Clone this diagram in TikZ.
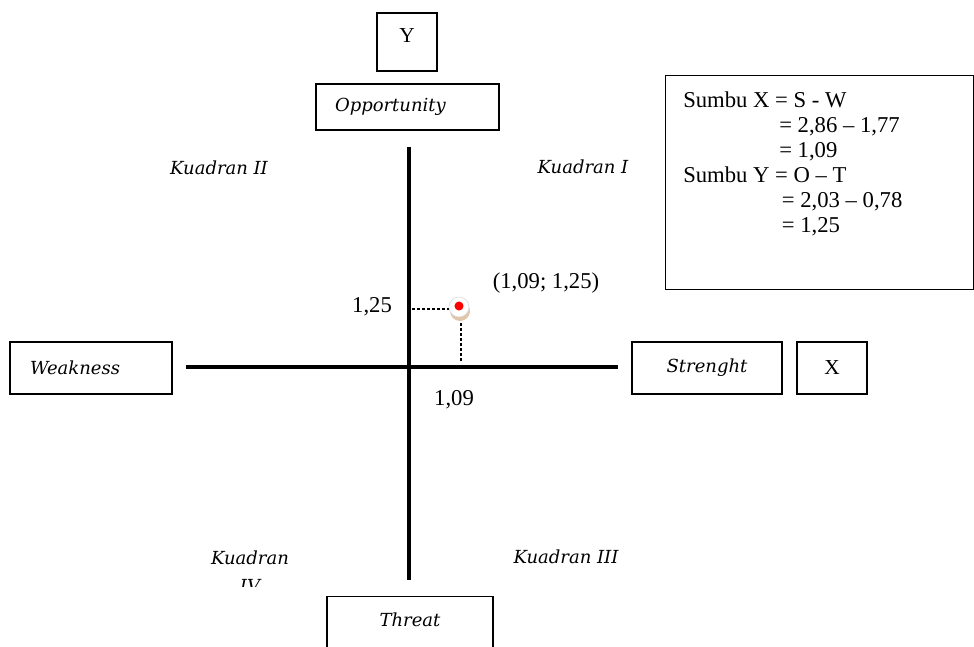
\documentclass[tikz,border=0pt]{standalone}
\usepackage{fontspec}
\setmainfont{Liberation Serif}
\newfontfamily\kfont{DejaVu Serif}

\begin{document}
\begin{tikzpicture}[x=0.75pt, y=-0.75pt,
  labelbox/.style={draw, line width=0.8pt, inner sep=0pt, font=\kfont\itshape\fontsize{13.5}{16}\selectfont},
  letterbox/.style={draw, line width=0.8pt, inner sep=0pt, font=\fontsize{16}{19}\selectfont},
  quad/.style={font=\kfont\itshape\fontsize{13.5}{16.5}\selectfont},
  num/.style={font=\fontsize{17}{19}\selectfont},
  axis/.style={line width=2.6pt},
  proj/.style={line width=1.9pt, dash pattern=on 1.9pt off 1.9pt},
  dotnode/.style={circle, fill=white, draw=black!15, minimum size=15pt, inner sep=0pt}]
\useasboundingbox (0,0) rectangle (974,646);

% boxes round the axes
\node[letterbox, minimum width=45pt, minimum height=43.5pt, text height=12pt, text depth=12pt] (ybox) at (407,42) {Y};
\node[labelbox, minimum height=34.5pt, text width=108.75pt, inner xsep=14.25pt, align=left] (opp) at (407.5,107) {Opportunity};
\node[labelbox, minimum height=39pt, text width=91.5pt, inner xsep=15pt, align=left] (weak) at (91,368) {Weakness};
\node[labelbox, minimum width=112.5pt, minimum height=39pt] (stren) at (707,368) {Strenght};
\node[letterbox, minimum width=52.5pt, minimum height=39pt] (xbox) at (832,368) {X};
\node[labelbox, anchor=north, minimum width=124.5pt, minimum height=52.5pt, text height=10pt, text depth=18pt] (threat) at (410,596) {Threat};

% axes
\coordinate (ytop) at (409,147);
\coordinate (ybot) at (409,580);
\coordinate (xleft) at (186,367);
\coordinate (xright) at (618,367);
\draw[axis] (ytop) -- (ybot);
\draw[axis] (xleft) -- (xright);

% the point
\fill[brown!45] (460,311) circle (7.5pt);
\node[dotnode] (pt) at (459,307) {};
\fill[red] (459,306) circle (3.4pt);
\coordinate (ymark) at (412,309);
\coordinate (xmark) at (461,361);
\draw[proj] (ymark) -- (ymark -| pt.west);
\draw[proj, shorten >=4pt] (xmark) -- (xmark |- pt.south);

\node[num] (ylab) at (372,307) {1,25};
\node[num] (xlab) at (454,400) {1,09};
\node[num] (ptlab) at (546,283) {(1,09; 1,25)};

% quadrants
\node[quad] (q1) at (583,167) {Kuadran I};
\node[quad] (q2) at (219,168) {Kuadran II};
\node[quad] (q3) at (566,557) {Kuadran III};
\begin{scope}
  \clip (150,530) rectangle (350,586);
  \node[quad, align=center, font=\kfont\itshape\fontsize{13.5}{21}\selectfont] (q4) at (250,572) {Kuadran\\IV};
\end{scope}

% calculation
\node[draw, line width=0.8pt, minimum width=231pt, minimum height=160.5pt, anchor=north west, inner sep=0pt] (calcbox) at (665,75) {};
\node[anchor=north west, align=left, inner sep=0pt, font=\fontsize{17}{18.75}\selectfont] (calc) at (683,92) {Sumbu X = S - W\\
\hspace*{72pt}= 2,86 – 1,77\\
\hspace*{72pt}= 1,09\\
Sumbu Y = O – T\\
\hspace*{74pt}= 2,03 – 0,78\\
\hspace*{74pt}= 1,25};
\end{tikzpicture}
\end{document}
